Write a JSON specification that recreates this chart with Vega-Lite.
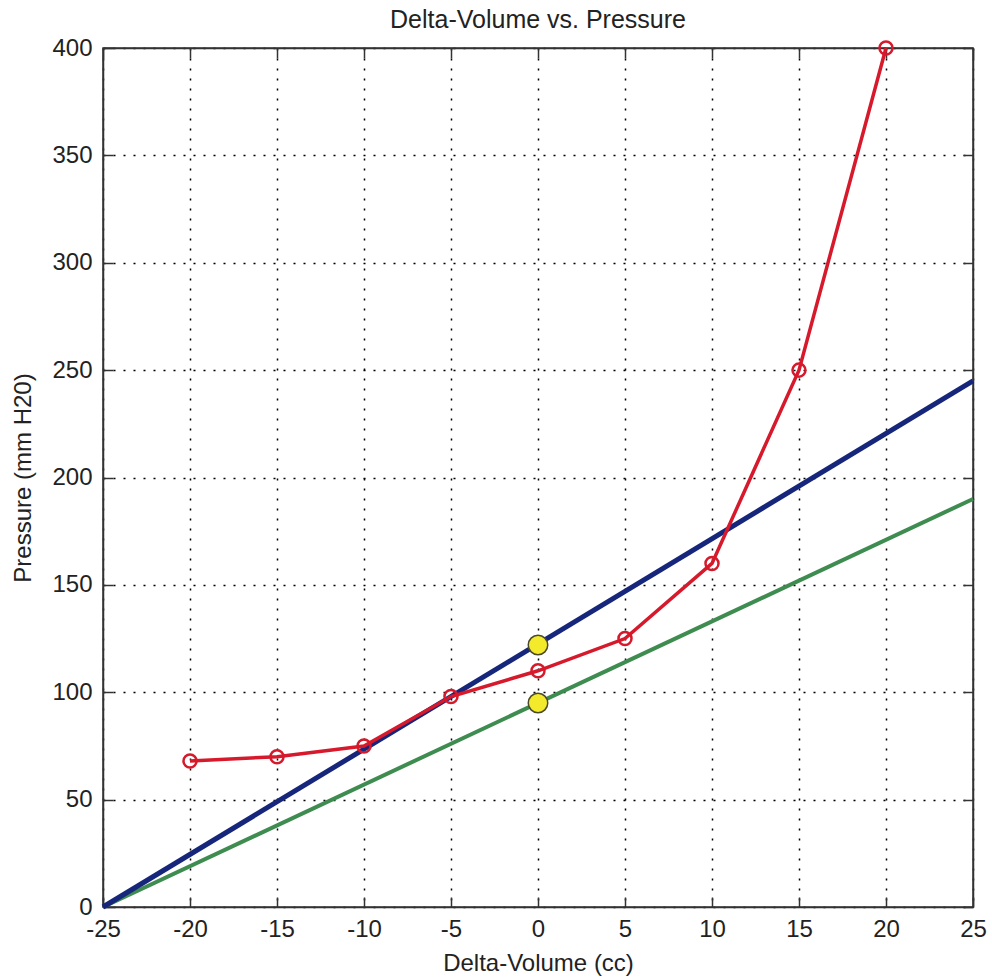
{
  "$schema": "https://vega.github.io/schema/vega-lite/v6.json",
  "width": 870,
  "height": 859,
  "autosize": {"type": "none"},
  "padding": {"left": 103, "top": 48, "right": 19, "bottom": 73},
  "background": "white",
  "title": {"text": "Delta-Volume vs. Pressure", "font": "Liberation Sans", "fontSize": 25, "fontWeight": "normal", "color": "#222", "offset": 3},
  "config": {
    "view": {"stroke": "#333", "strokeWidth": 1.5},
    "axis": {
      "labelFont": "Liberation Sans", "labelFontSize": 24, "labelColor": "#222",
      "titleFont": "Liberation Sans", "titleFontSize": 24, "titleFontWeight": "normal", "titleColor": "#222",
      "domainColor": "#333", "domainWidth": 1.5,
      "tickColor": "#333", "tickWidth": 1.5, "tickSize": -10,
      "gridColor": "#000", "gridDash": [2, 8], "gridWidth": 1.5, "gridOpacity": 1
    }
  },
  "datasets": {
    "measured": [
      {"volume": -20, "pressure": 68},
      {"volume": -15, "pressure": 70},
      {"volume": -10, "pressure": 75},
      {"volume": -5, "pressure": 98},
      {"volume": 0, "pressure": 110},
      {"volume": 5, "pressure": 125},
      {"volume": 10, "pressure": 160},
      {"volume": 15, "pressure": 250},
      {"volume": 20, "pressure": 400}
    ],
    "fits": [
      {"series": "blue", "volume": -25, "pressure": 0},
      {"series": "blue", "volume": 25, "pressure": 245},
      {"series": "green", "volume": -25, "pressure": 0},
      {"series": "green", "volume": 25, "pressure": 190}
    ],
    "markers": [
      {"volume": 0, "pressure": 122},
      {"volume": 0, "pressure": 95}
    ]
  },
  "resolve": {"axis": {"x": "independent", "y": "independent"}},
  "layer": [
    {
      "data": {"name": "fits"},
      "transform": [{"filter": "datum.series === 'green'"}],
      "mark": {"type": "line", "color": "#3e8c50", "strokeWidth": 4},
      "encoding": {
        "x": {"field": "volume", "type": "quantitative", "scale": {"domain": [-25, 25], "nice": false, "zero": false},
              "axis": {"orient": "bottom", "values": [-25, -20, -15, -10, -5, 0, 5, 10, 15, 20, 25], "labelExpr": "toString(datum.value)", "title": "Delta-Volume (cc)", "labelPadding": 20, "titlePadding": 10, "grid": true, "labelFlush": false}},
        "y": {"field": "pressure", "type": "quantitative", "scale": {"domain": [0, 400], "nice": false},
              "axis": {"orient": "left", "values": [0, 50, 100, 150, 200, 250, 300, 350, 400], "title": "Pressure (mm H20)", "labelPadding": 21, "titlePadding": 16, "grid": true, "labelFlush": false}}
      }
    },
    {
      "data": {"name": "fits"},
      "transform": [{"filter": "datum.series === 'blue'"}],
      "mark": {"type": "line", "color": "#16267a", "strokeWidth": 5},
      "encoding": {
        "x": {"field": "volume", "type": "quantitative",
              "axis": {"orient": "top", "values": [-25, -20, -15, -10, -5, 0, 5, 10, 15, 20, 25], "labels": false, "title": null, "grid": false}},
        "y": {"field": "pressure", "type": "quantitative",
              "axis": {"orient": "right", "values": [0, 50, 100, 150, 200, 250, 300, 350, 400], "labels": false, "title": null, "grid": false}}
      }
    },
    {
      "data": {"name": "measured"},
      "mark": {"type": "line", "color": "#d6192b", "strokeWidth": 3.5, "point": {"shape": "circle", "filled": false, "size": 170, "stroke": "#d6192b", "strokeWidth": 2.5}},
      "encoding": {
        "x": {"field": "volume", "type": "quantitative", "axis": null},
        "y": {"field": "pressure", "type": "quantitative", "axis": null}
      }
    },
    {
      "data": {"name": "markers"},
      "mark": {"type": "point", "shape": "circle", "filled": true, "size": 380, "color": "#f4ea2c", "stroke": "#4a4a2a", "strokeWidth": 1.5, "opacity": 1},
      "encoding": {
        "x": {"field": "volume", "type": "quantitative", "axis": null},
        "y": {"field": "pressure", "type": "quantitative", "axis": null}
      }
    }
  ]
}
